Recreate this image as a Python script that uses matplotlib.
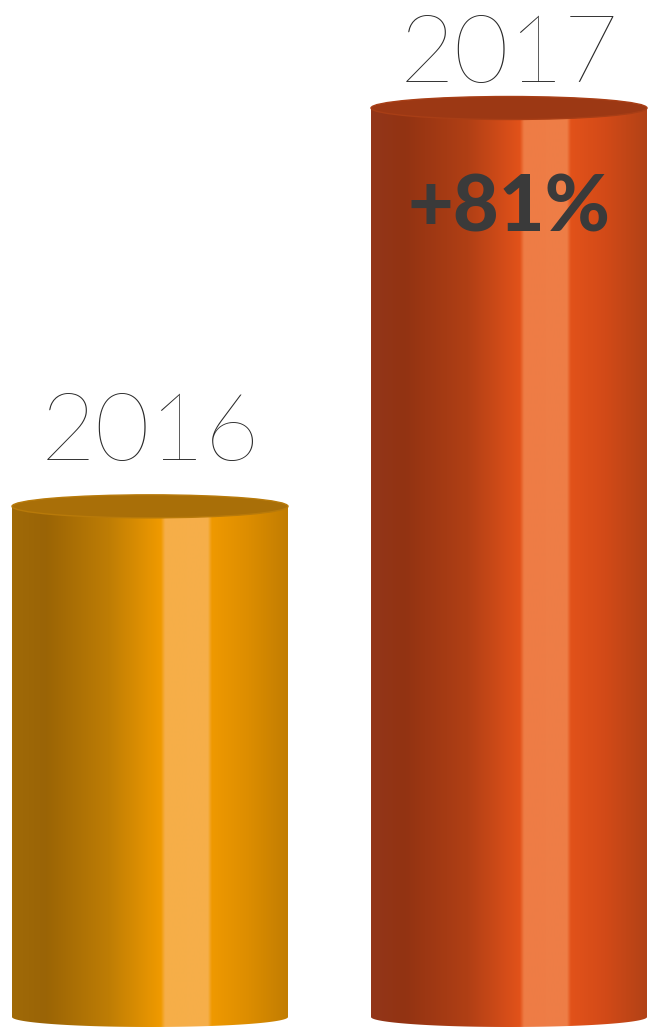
import numpy as np
import matplotlib
matplotlib.use("Agg")
import matplotlib.pyplot as plt
from matplotlib.colors import LinearSegmentedColormap
from matplotlib.path import Path
from matplotlib.patches import PathPatch, Ellipse

# ---- data ----
years = ["2016", "2017"]
values = [100, 178]          # bar heights (2016 = 100)
growth_label = "+81%"

# ---- styles ----
side_stops = [
    [(0.0, "#A06A08"), (0.12, "#9A6406"), (0.35, "#BE7D05"), (0.54, "#F09A00"),
     (0.555, "#F6AE48"), (0.71, "#F6AF4A"), (0.725, "#EF9900"), (0.85, "#DE8E00"),
     (1.0, "#C27D02")],
    [(0.0, "#93361A"), (0.12, "#923312"), (0.35, "#B03F15"), (0.54, "#E2521A"),
     (0.555, "#EE7C45"), (0.71, "#EE7E47"), (0.725, "#E2521A"), (0.85, "#D24A18"),
     (1.0, "#B24216")],
]
top_colors = ["#A96F08", "#9C3814"]
top_edge = ["#B87A0A", "#A83E16"]

W, H = 650, 1028
fig = plt.figure(figsize=(W / 100, H / 100), dpi=100)
ax = fig.add_axes([0, 0, 1, 1])
ax.set_axis_off()

# layout (pixels)
centers_px = [150, 509]
bar_w_px = 276
base_px = 11          # from figure bottom
top_val_px = 920      # pixel height (from bottom) of the max value
ell_h_px = 23         # full height of top ellipse
bot_h_px = 20
label_gap_px = [46, 26]   # ellipse centre -> label baseline

unit_x = centers_px[1] - centers_px[0]
xpx = lambda p: (p - centers_px[0]) / unit_x
ypu = (top_val_px - base_px) / max(values)
ax.set_xlim(xpx(0), xpx(W))
ax.set_ylim(-base_px / ypu, (H - base_px) / ypu)

bw = bar_w_px / unit_x
eh = ell_h_px / ypu
bh = bot_h_px / ypu

for i, (yr, v) in enumerate(zip(years, values)):
    xc = i
    x0, x1 = xc - bw / 2, xc + bw / 2
    t = np.linspace(np.pi, 2 * np.pi, 80)
    bx = xc + (bw / 2) * np.cos(t)
    by = 0 + (bh / 2) * np.sin(t)
    verts = [(x0, v)] + list(zip(bx, by)) + [(x1, v), (x0, v)]
    codes = [Path.MOVETO] + [Path.LINETO] * (len(verts) - 2) + [Path.CLOSEPOLY]
    path = Path(verts, codes)
    patch = PathPatch(path, facecolor="none", edgecolor="none", transform=ax.transData)
    ax.add_patch(patch)
    cmap = LinearSegmentedColormap.from_list("c%d" % i, side_stops[i], N=512)
    grad = np.linspace(0, 1, 512).reshape(1, -1)
    im = ax.imshow(grad, cmap=cmap, extent=[x0, x1, -bh, v], aspect="auto",
                   interpolation="bilinear", zorder=2)
    im.set_clip_path(patch)
    top = Ellipse((xc, v), bw, eh, facecolor=top_colors[i], edgecolor=top_edge[i],
                  linewidth=1.0, zorder=3)
    ax.add_patch(top)
    ax.text(xc, v + label_gap_px[i] / ypu, yr, ha="center", va="baseline",
            fontsize=68, fontfamily="Lato", fontweight=100, color="#2a2a2a", zorder=4)

ax.text(1, values[1] - 123 / ypu, growth_label, ha="center", va="baseline",
        fontsize=57, fontfamily="Lato", fontweight="black", color="#3a3a3a", zorder=5)

fig.savefig("out.png", dpi=100)
